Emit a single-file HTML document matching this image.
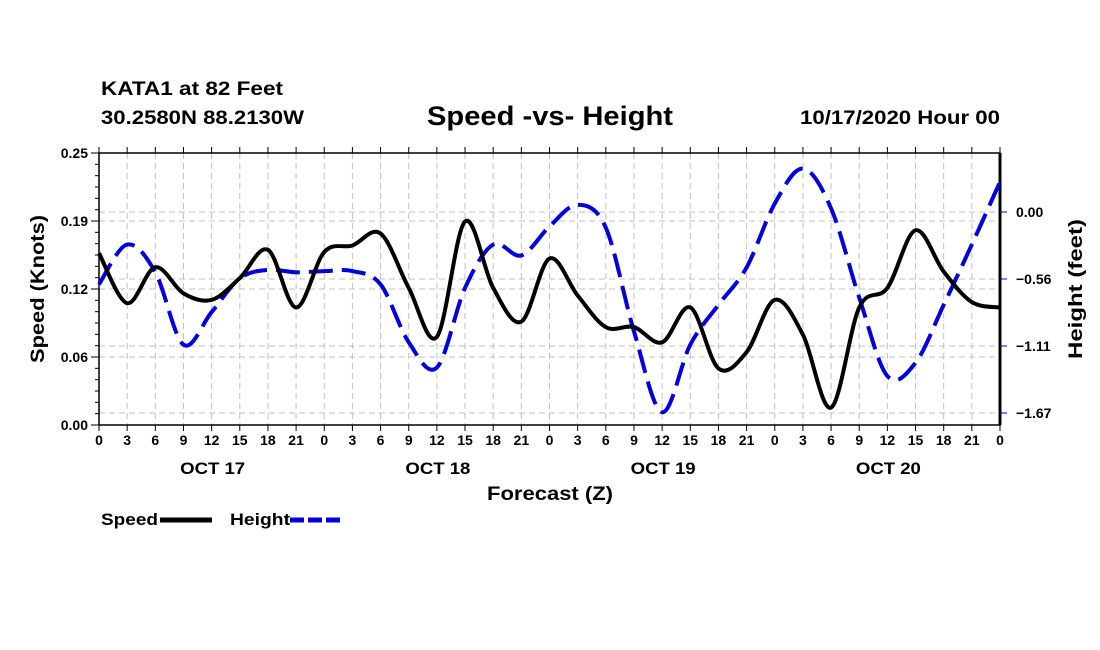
<!DOCTYPE html>
<html><head><meta charset="utf-8"><style>
html,body{margin:0;padding:0;background:#fff;width:1100px;height:650px;overflow:hidden}
svg text{font-family:"Liberation Sans",sans-serif;font-weight:bold;fill:#000}
</style></head><body>
<svg id="chart" width="1100" height="650" xmlns="http://www.w3.org/2000/svg">
<text x="101" y="95" font-size="19" textLength="182" lengthAdjust="spacingAndGlyphs">KATA1 at 82 Feet</text>
<text x="101" y="124" font-size="19" textLength="203" lengthAdjust="spacingAndGlyphs">30.2580N 88.2130W</text>
<text x="427" y="125" font-size="27" textLength="246" lengthAdjust="spacingAndGlyphs">Speed -vs- Height</text>
<text x="800" y="124" font-size="19" textLength="200" lengthAdjust="spacingAndGlyphs">10/17/2020 Hour 00</text>
<g id="grid"></g><g id="axes"></g><g id="series"></g>
<text transform="translate(44,289) rotate(-90)" font-size="19" text-anchor="middle" textLength="148" lengthAdjust="spacingAndGlyphs">Speed (Knots)</text>
<text transform="translate(1082,289) rotate(-90)" font-size="19" text-anchor="middle" textLength="140" lengthAdjust="spacingAndGlyphs">Height (feet)</text>
<text x="487" y="500" font-size="19" textLength="126" lengthAdjust="spacingAndGlyphs">Forecast (Z)</text>
<g>
<text x="101" y="525" font-size="17" textLength="57" lengthAdjust="spacingAndGlyphs">Speed</text>
<line x1="160" y1="520" x2="212" y2="520" stroke="#000" stroke-width="5"/></g>
<g>
<text x="230" y="525" font-size="17" textLength="60" lengthAdjust="spacingAndGlyphs">Height</text>
<line x1="290" y1="520" x2="342" y2="520" stroke="#0000dd" stroke-width="5" stroke-dasharray="14,4"/></g>
</svg>
<script>
const hours=[0,3,6,9,12,15,18,21,24,27,30,33,36,39,42,45,48,51,54,57,60,63,66,69,72,75,78,81,84,87,90,93,96];
const speedValues=[0.158,0.112,0.145,0.121,0.115,0.135,0.161,0.108,0.159,0.165,0.176,0.126,0.081,0.187,0.126,0.095,0.153,0.119,0.090,0.090,0.076,0.108,0.052,0.067,0.115,0.083,0.016,0.108,0.126,0.179,0.141,0.113,0.108];
const heightValues=[-0.60,-0.27,-0.50,-1.10,-0.83,-0.55,-0.48,-0.50,-0.49,-0.49,-0.60,-1.08,-1.29,-0.63,-0.27,-0.36,-0.12,0.06,-0.13,-0.99,-1.66,-1.10,-0.77,-0.46,0.07,0.36,0.03,-0.71,-1.36,-1.25,-0.77,-0.27,0.25];
const leftTicks=[0,0.0625,0.125,0.1875,0.25];
const leftTickLabels=["0.00","0.06","0.12","0.19","0.25"];
const rightTicks=[0,-0.5556,-1.1111,-1.6667];
const rightTickLabels=["0.00","\u22120.56","\u22121.11","\u22121.67"];
const dayLabels=["OCT 17","OCT 18","OCT 19","OCT 20"];

const X0=99,X1=1000,Y0=153,Y1=425;
const xS=h=>X0+(h/96)*(X1-X0);
const yL=v=>Y1-(v/0.25)*(Y1-Y0);
const yR=v=>212-v*(67/0.5556);
const NS="http://www.w3.org/2000/svg";
function mk(parent,tag,attrs){const e=document.createElementNS(NS,tag);for(const k in attrs)e.setAttribute(k,attrs[k]);document.getElementById(parent).appendChild(e);return e;}
for(let h=3;h<96;h+=3){const g=mk('grid','line',{x1:xS(h),x2:xS(h),y1:Y0,y2:Y1,stroke:'#c0c0c0','stroke-dasharray':'6,4'});

}
leftTicks.slice(1,4).forEach(v=>{const g=mk('grid','line',{x1:X0,x2:X1,y1:yL(v),y2:yL(v),stroke:'#c0c0c0','stroke-dasharray':'6,4'});

});
rightTicks.forEach(v=>{const g=mk('grid','line',{x1:X0,x2:X1,y1:yR(v),y2:yR(v),stroke:'#c0c0c0','stroke-dasharray':'6,4'});

});
const fr=mk('axes','rect',{x:X0,y:Y0,width:X1-X0,height:Y1-Y0,fill:'none',stroke:'#000','stroke-width':1.5});


const ra=mk('axes','line',{x1:X1,x2:X1,y1:Y0,y2:Y1,stroke:'#000','stroke-width':3});


for(let i=0;i<=24;i++){const y=Y1-i*(Y1-Y0)/24;mk('axes','line',{x1:X0-(i%6==0?8:4),x2:X0,y1:y,y2:y,stroke:'#000'});}
leftTicks.forEach((v,i)=>{const t=mk('axes','text',{x:X0-11,y:yL(v)+5,'font-size':14,'text-anchor':'end'});t.textContent=leftTickLabels[i];

});
rightTicks.forEach((v,i)=>{mk('axes','line',{x1:X1,x2:X1+7,y1:yR(v),y2:yR(v),stroke:'#0000dd'});
const t=mk('axes','text',{x:X1+16,y:yR(v)+5,'font-size':14});t.textContent=rightTickLabels[i];

});
for(let h=0;h<=96;h+=3){const x=xS(h);mk('axes','line',{x1:x,x2:x,y1:Y1,y2:Y1+6,stroke:'#000'});mk('axes','line',{x1:x,x2:x,y1:Y0,y2:Y0-6,stroke:'#000'});
const t=mk('axes','text',{x:x,y:Y1+20,'font-size':14,'text-anchor':'middle'});t.textContent=String(h%24);

}
dayLabels.forEach((d,i)=>{const t=mk('axes','text',{x:xS(i*24+12)+1,y:Y1+49,'font-size':17,'text-anchor':'middle',textLength:65,lengthAdjust:'spacingAndGlyphs'});t.textContent=d;

});
function smooth(pts){let d=`M${pts[0][0]},${pts[0][1]}`;for(let i=0;i<pts.length-1;i++){const p0=pts[Math.max(i-1,0)],p1=pts[i],p2=pts[i+1],p3=pts[Math.min(i+2,pts.length-1)];
d+=` C${p1[0]+(p2[0]-p0[0])/6},${p1[1]+(p2[1]-p0[1])/6} ${p2[0]-(p3[0]-p1[0])/6},${p2[1]-(p3[1]-p1[1])/6} ${p2[0]},${p2[1]}`;}return d;}
const hp=mk('series','path',{d:smooth(hours.map((h,i)=>[xS(h),yR(heightValues[i])])),fill:'none',stroke:'#0000dd','stroke-width':4,'stroke-dasharray':'24,9'});


const sp=mk('series','path',{d:smooth(hours.map((h,i)=>[xS(h),yL(speedValues[i])])),fill:'none',stroke:'#000','stroke-width':4});


</script>
</body></html>
